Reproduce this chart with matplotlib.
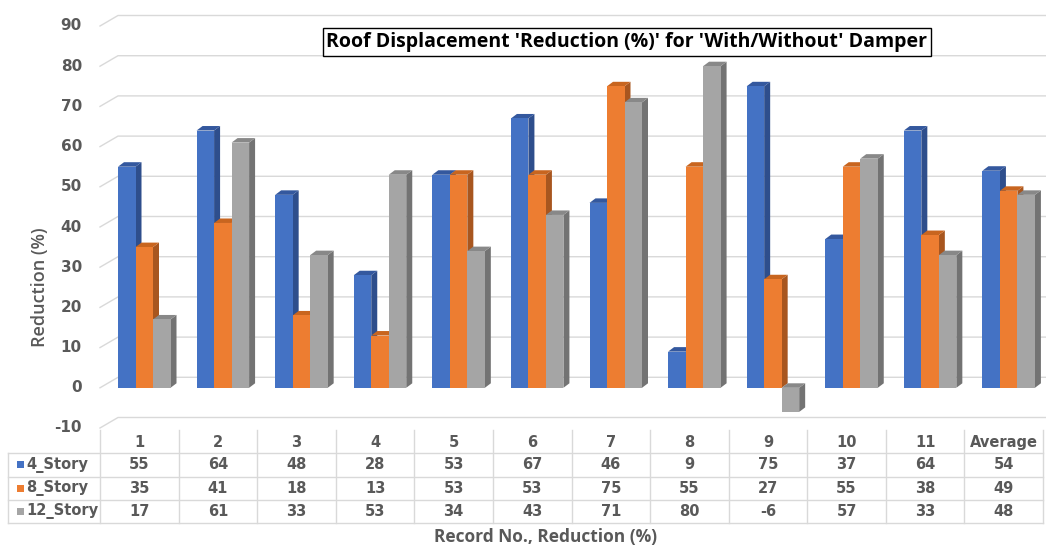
import numpy as np
import matplotlib
matplotlib.use('Agg')
import matplotlib.pyplot as plt
from matplotlib.patches import Polygon, Rectangle
from matplotlib.lines import Line2D

# data
records = ['1', '2', '3', '4', '5', '6', '7', '8', '9', '10', '11', 'Average']
series_names = ['4_Story', '8_Story', '12_Story']
story4 = [55, 64, 48, 28, 53, 67, 46, 9, 75, 37, 64, 54]
story8 = [35, 41, 18, 13, 53, 53, 75, 55, 27, 55, 38, 49]
story12 = [17, 61, 33, 53, 34, 43, 71, 80, -6, 57, 33, 48]
yticks = list(range(-10, 91, 10))

front_cols = ['#4472C4', '#ED7D31', '#A5A5A5']
side_cols = ['#2E4E8C', '#A8561F', '#737373']
top_cols = ['#34589E', '#C8651F', '#888888']
txt_col = '#595959'
grid_col = '#D9D9D9'

W, H = 1046, 547
fig = plt.figure(figsize=(W / 100, H / 100), dpi=100)

# main plotting area (front plane), pixel layout from the reference
px_left, px_right = 100, 1043
px_top, px_bot = 26, 428
ax = fig.add_axes([px_left / W, 1 - px_bot / H, (px_right - px_left) / W, (px_bot - px_top) / H])
ax.set_xlim(0, 12)
ax.set_ylim(-10, 90)
ax.axis('off')

upx = 12 / (px_right - px_left)       # data units per pixel (x)
vpx = 100 / (px_bot - px_top)         # data units per pixel (y)

# back wall gridlines with perspective diagonal
gdx, gdy = 18 * upx, 10.5 * vpx
for v in yticks:
    ax.plot([0, gdx, 12.03], [v, v + gdy, v + gdy], color=grid_col, lw=1.0, zorder=0, clip_on=False)
    ax.text(-0.23, v, str(v), ha='right', va='center', fontsize=11, fontweight='bold',
            color=txt_col, family='DejaVu Sans')

ax.text(-60 * upx, 25, 'Reduction (%)', rotation=90, ha='center', va='center', fontsize=13,
        fontweight='semibold', color=txt_col, family='Open Sans')

# 3D-looking bars
bw = 17.5 * upx
dx, dy = 6 * upx, 4.5 * vpx
x0 = np.arange(len(records)) + 18 * upx
for j, vals in enumerate([story4, story8, story12]):
    xs = x0 + j * bw
    for x, h in zip(xs, vals):
        lo, hi = min(0, h), max(0, h)
        ax.add_patch(Polygon([[x + bw, lo], [x + bw + dx, lo + dy], [x + bw + dx, hi + dy], [x + bw, hi]],
                             closed=True, fc=side_cols[j], ec='none', zorder=2))
        ax.add_patch(Polygon([[x, hi], [x + dx, hi + dy], [x + bw + dx, hi + dy], [x + bw, hi]],
                             closed=True, fc=top_cols[j], ec='none', zorder=2))
    ax.bar(xs, vals, width=bw, align='edge', color=front_cols[j], zorder=2)

# title
t = fig.text(627 / W, 1 - 42 / H, "Roof Displacement 'Reduction (%)' for 'With/Without' Damper",
             ha='center', va='center', fontsize=14, fontweight='bold', color='black', family='Open Sans',
             bbox=dict(boxstyle='square,pad=0.2', fc='white', ec='black', lw=1.0))
fig.canvas.draw()
bb = t.get_window_extent()
fig.add_artist(Line2D([bb.x0 / W, bb.x1 / W], [(bb.y0 - 1) / H] * 2, color='black', lw=1.0))

# data table
tb_top, tb_bot = 430, 523
tab = fig.add_axes([8 / W, 1 - tb_bot / H, (px_right - 8) / W, (tb_bot - tb_top) / H])
tab.set_xlim(-92 * upx, 12)
tab.set_ylim(4, 0)
tab.axis('off')
for r in [1, 2, 3, 4]:
    tab.plot([-92 * upx, 12], [r, r], color=grid_col, lw=1.0, clip_on=False)
tab.plot([-92 * upx, -92 * upx], [1, 4], color=grid_col, lw=1.0, clip_on=False)
for c in range(13):
    tab.plot([c, c], [0, 4], color=grid_col, lw=1.0, clip_on=False)
for i, rec in enumerate(records):
    tab.text(i + 0.5, 0.55, rec, ha='center', va='center', fontsize=10.5, fontweight='bold',
             color=txt_col, family='DejaVu Sans')
for r, (name, vals) in enumerate(zip(series_names, [story4, story8, story12])):
    for i, v in enumerate(vals):
        tab.text(i + 0.5, r + 1.5, str(v), ha='center', va='center', fontsize=10.5, fontweight='bold',
                 color=txt_col, family='DejaVu Sans')
    tab.add_patch(Rectangle((-83 * upx, r + 1.35), 7 * upx, 0.3, fc=front_cols[r], ec='none', clip_on=False))
    tab.text(-74 * upx, r + 1.5, name, ha='left', va='center', fontsize=10.5, fontweight='bold',
             color=txt_col, family='DejaVu Sans')

fig.text(546 / W, 1 - 537 / H, 'Record No., Reduction (%)', ha='center', va='center', fontsize=12.5,
         fontweight='bold', color=txt_col, family='Open Sans')

fig.savefig('out.png', dpi=100, facecolor='white')
